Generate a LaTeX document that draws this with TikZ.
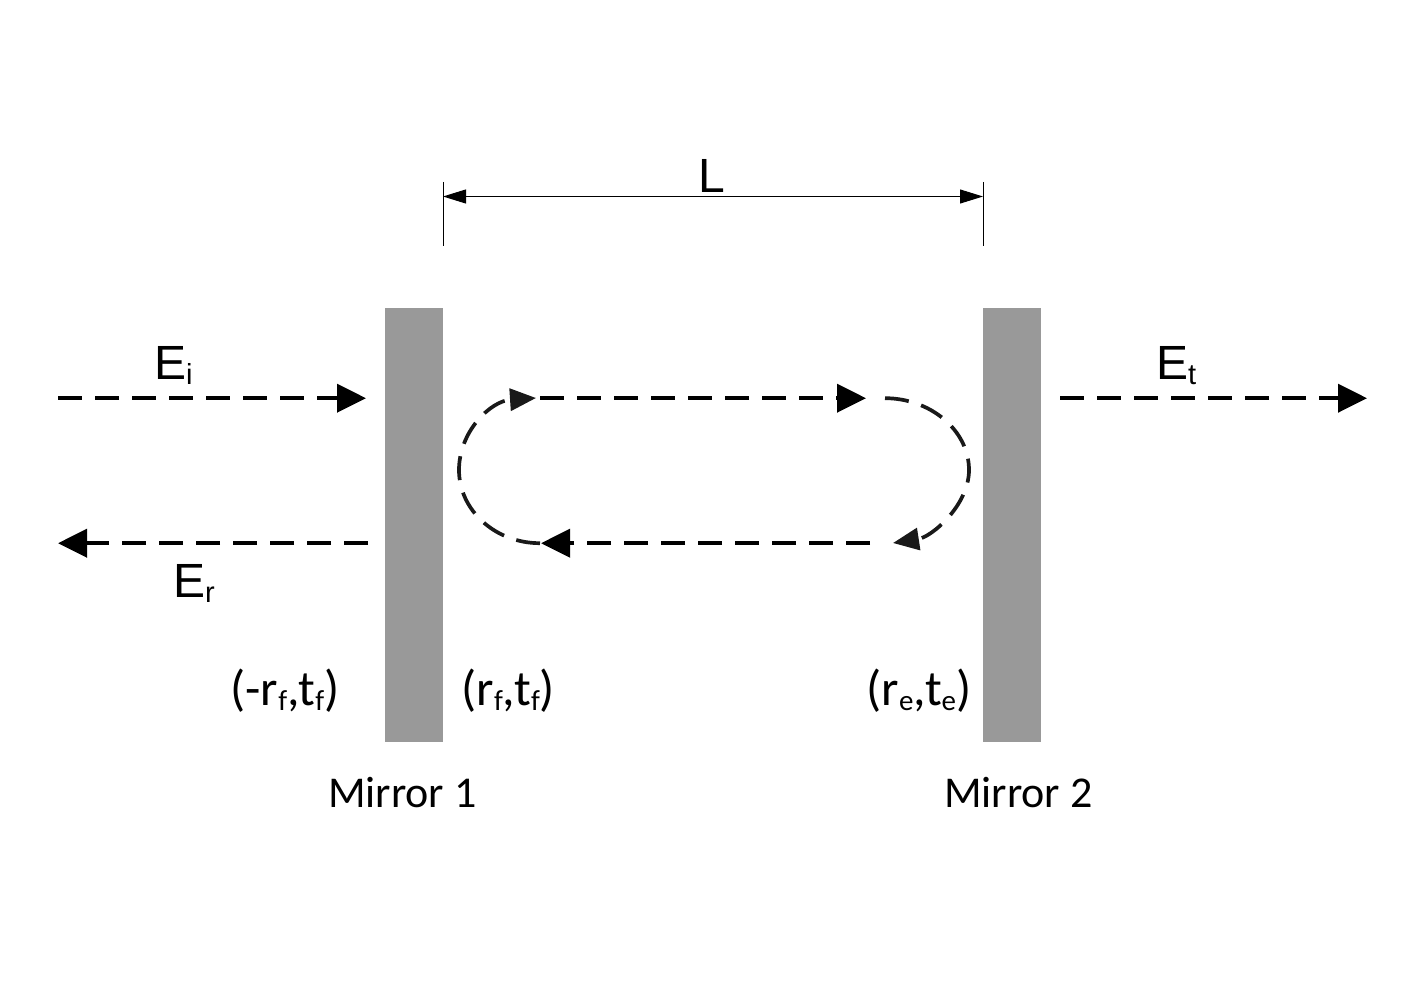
\documentclass[tikz,border=0pt]{standalone}
\usepackage{fontspec}
\setmainfont{Carlito}
\newfontfamily\arialish{Liberation Sans}
\usetikzlibrary{arrows.meta}
\newcommand{\subs}[1]{\raisebox{-5pt}{\fontsize{29}{29}\selectfont #1}}
\definecolor{mirrorgray}{HTML}{999999}
\tikzset{
  mirror/.style={draw=none,fill=mirrorgray,minimum width=58pt,minimum height=434pt,inner sep=0pt,outer sep=0pt},
  lbl/.style={anchor=base west,inner sep=0pt,outer sep=0pt,font=\fontsize{50}{50}\selectfont},
  biglbl/.style={lbl,font=\arialish\fontsize{48}{48}\selectfont},
  caplbl/.style={lbl,font=\fontsize{44}{45}\selectfont},
  ray/.style={line width=4pt,dash pattern=on 24pt off 13pt,-{Triangle[length=29pt,width=28pt]}},
  loopray/.style={line width=3.7pt,color=black!90,dash pattern=on 24pt off 13pt,-{Triangle[length=26pt,width=22pt]}},
  dim/.style={line width=1pt,{Triangle[length=23pt,width=14pt]}-{Triangle[length=23pt,width=14pt]}},
  tickline/.style={line width=1pt},
}
\begin{document}
\begin{tikzpicture}[x=1pt,y=-1pt]
\useasboundingbox (0,0) rectangle (1403,992);
\node[mirror] (m1) at (414,525) {};
\node[mirror] (m2) at (1012,525) {};
\coordinate (t1a) at (443,182); \coordinate (t1b) at (443,246);
\coordinate (t2a) at (983,182); \coordinate (t2b) at (983,246);
\coordinate (d1) at (443,196.5); \coordinate (d2) at (983,196.5);
\draw[tickline] (t1a) -- (t1b);
\draw[tickline] (t2a) -- (t2b);
\draw[dim] (d1) -- (d2);
\coordinate (ei1) at (58,398.2); \coordinate (ei2) at (366,398.2);
\coordinate (er1) at (368,543.2); \coordinate (er2) at (58,543.2);
\coordinate (et1) at (1060,398.2); \coordinate (et2) at (1367,398.2);
\coordinate (top1) at (540,398.2); \coordinate (top2) at (866,398.2);
\coordinate (bot1) at (870,543.2); \coordinate (bot2) at (541,543.2);
\coordinate (la) at (540,543.2); \coordinate (lm) at (459,470); \coordinate (lb) at (536,398);
\coordinate (ra) at (885,398.2); \coordinate (rm) at (969,470); \coordinate (rb) at (893,543);
\draw[ray] (ei1) -- (ei2);
\draw[ray] (er1) -- (er2);
\draw[ray] (et1) -- (et2);
\draw[ray] (top1) -- (top2);
\draw[ray] (bot1) -- (bot2);
\draw[loopray] (la) .. controls (495,543.2) and (459,510) .. (lm) .. controls (459,432) and (490,401) .. (lb);
\draw[loopray] (ra) .. controls (930,398.2) and (969,430) .. (rm) .. controls (969,505) and (932,537) .. (rb);
\node[biglbl] (lbi) at (154,379) {E\subs{i}};
\node[biglbl] (lbr) at (173,597) {E\subs{r}};
\node[biglbl] (lbt) at (1156,379) {E\subs{t}};
\node[biglbl] (lbl) at (698,193) {L};
\node[lbl] (c1) at (230.5,705) {(-r\subs{f},t\subs{f})};
\node[lbl] (c2) at (461.5,705) {(r\subs{f},t\subs{f})};
\node[lbl] (c3) at (866.5,705) {(r\subs{e},t\subs{e})};
\node[caplbl] (n1) at (328,807) {Mirror 1};
\node[caplbl] (n2) at (944,807) {Mirror 2};
\end{tikzpicture}
\end{document}
